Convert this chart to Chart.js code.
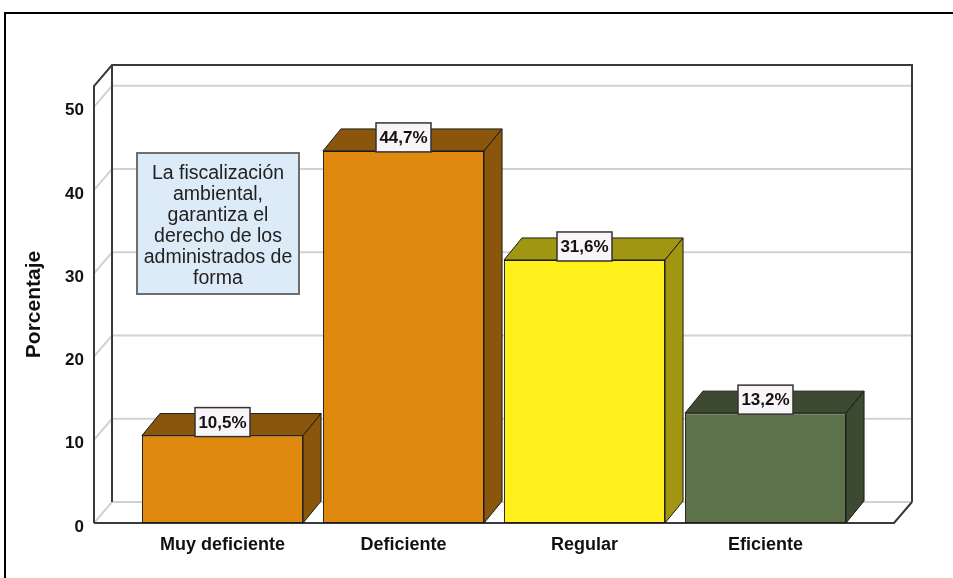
<!DOCTYPE html>
<html>
<head>
<meta charset="utf-8">
<script src="https://cdn.jsdelivr.net/npm/chart.js@4.4.1/dist/chart.umd.min.js"></script>
<style>
  html, body { margin: 0; padding: 0; background: #fff; }
  canvas { display: block; }
</style>
</head>
<body>
<canvas id="chart" width="953" height="578"></canvas>
<script>
const categories = ['Muy deficiente', 'Deficiente', 'Regular', 'Eficiente'];
const percentages = [10.5, 44.7, 31.6, 13.2];
const yTicks = [0, 10, 20, 30, 40, 50];
const frontColors = ['#E0890F', '#E0890F', '#FFF01C', '#5D724A'];
const sideColors = ['#8A560C', '#8A560C', '#A09612', '#3B4A30'];
const noteLines = ['La fiscalización', 'ambiental,', 'garantiza el', 'derecho de los', 'administrados de', 'forma'];

const DX = 18, DY = 21, BAR_DY = 22;
const FONT = '"Liberation Sans", Arial, sans-serif';

function poly(ctx, pts, fill, stroke) {
  ctx.beginPath();
  ctx.moveTo(pts[0][0], pts[0][1]);
  for (let i = 1; i < pts.length; i++) ctx.lineTo(pts[i][0], pts[i][1]);
  ctx.closePath();
  ctx.fillStyle = fill;
  ctx.fill();
  ctx.lineWidth = 1;
  ctx.strokeStyle = stroke;
  ctx.stroke();
}

const frame3d = {
  id: 'frame3d',
  beforeDraw(chart) {
    const ctx = chart.ctx;
    ctx.save();
    ctx.strokeStyle = '#000';
    ctx.lineWidth = 2;
    ctx.beginPath();
    ctx.moveTo(5, 578);
    ctx.lineTo(5, 13);
    ctx.lineTo(953, 13);
    ctx.stroke();
    ctx.restore();
  },
  beforeDatasetsDraw(chart) {
    const ctx = chart.ctx;
    const { left: L, right: R, top: T, bottom: B } = chart.chartArea;
    const y = chart.scales.y;
    ctx.save();
    // gridlines on the left and back walls
    ctx.strokeStyle = '#D2D2D2';
    ctx.lineWidth = 2;
    yTicks.forEach(v => {
      const fy = y.getPixelForValue(v);
      ctx.beginPath();
      ctx.moveTo(L, fy);
      ctx.lineTo(L + DX, fy - DY);
      ctx.lineTo(R + DX, fy - DY);
      ctx.stroke();
    });
    // box outline
    ctx.strokeStyle = '#3A3A3A';
    ctx.lineWidth = 2;
    ctx.beginPath();
    ctx.moveTo(L, B);
    ctx.lineTo(L, T);
    ctx.lineTo(L + DX, T - DY);
    ctx.lineTo(R + DX, T - DY);
    ctx.lineTo(R + DX, B - DY);
    ctx.moveTo(L + DX, T - DY);
    ctx.lineTo(L + DX, B - DY);
    ctx.moveTo(L, B);
    ctx.lineTo(R, B);
    ctx.lineTo(R + DX, B - DY);
    ctx.stroke();
    ctx.restore();
  },
  afterDatasetsDraw(chart) {
    const ctx = chart.ctx;
    const meta = chart.getDatasetMeta(0);
    ctx.save();
    meta.data.forEach((bar, i) => {
      const { x, y, base, width } = bar.getProps(['x', 'y', 'base', 'width'], true);
      const l = x - width / 2, r = x + width / 2;
      poly(ctx, [[l, y], [l + DX, y - BAR_DY], [r + DX, y - BAR_DY], [r, y]], sideColors[i], '#1A1A1A');
      poly(ctx, [[r, y], [r + DX, y - BAR_DY], [r + DX, base - BAR_DY], [r, base]], sideColors[i], '#1A1A1A');
    });
    // value labels
    ctx.font = 'bold 17px ' + FONT;
    ctx.textAlign = 'center';
    ctx.textBaseline = 'middle';
    meta.data.forEach((bar, i) => {
      const txt = percentages[i].toFixed(1).replace('.', ',') + '%';
      const w = 55, h = 29;
      const bx = bar.x - w / 2, by = bar.y + 1 - h;
      ctx.fillStyle = '#F8F4F8';
      ctx.fillRect(bx, by, w, h);
      ctx.strokeStyle = '#333';
      ctx.lineWidth = 1.5;
      ctx.strokeRect(bx, by, w, h);
      ctx.fillStyle = '#111';
      ctx.fillText(txt, bar.x, by + h / 2 + 1);
    });
    // note box
    ctx.fillStyle = '#DDEAF8';
    ctx.fillRect(137, 153, 162, 141);
    ctx.strokeStyle = '#6E6E6E';
    ctx.lineWidth = 2;
    ctx.strokeRect(137, 153, 162, 141);
    ctx.fillStyle = '#222';
    ctx.font = '19.5px ' + FONT;
    noteLines.forEach((t, i) => ctx.fillText(t, 218, 174 + i * 21));
    ctx.restore();
  }
};

new Chart(document.getElementById('chart'), {
  type: 'bar',
  data: {
    datasets: [{
      data: percentages.map((v, i) => ({ x: i, y: v })),
      backgroundColor: frontColors,
      borderColor: '#1A1A1A',
      borderWidth: 1,
      borderSkipped: false,
      categoryPercentage: 1,
      barPercentage: 0.89
    }]
  },
  options: {
    responsive: false,
    animation: false,
    layout: { padding: { left: 0, top: 86, right: 59, bottom: 0 } },
    plugins: { legend: { display: false }, tooltip: { enabled: false } },
    scales: {
      x: {
        type: 'linear',
        offset: false,
        bounds: 'data',
        min: -0.71,
        max: 3.71,
        afterBuildTicks: s => { s.ticks = categories.map((c, i) => ({ value: i })); },
        afterFit: s => { s.height = 55; },
        grid: { display: false, drawTicks: false },
        border: { display: false },
        ticks: {
          autoSkip: false,
          maxRotation: 0,
          padding: 11,
          color: '#111',
          font: { family: FONT, size: 18, weight: 'bold' },
          callback: v => categories[v]
        }
      },
      y: {
        min: 0,
        max: 52.5,
        afterBuildTicks: s => { s.ticks = yTicks.map(v => ({ value: v })); },
        afterFit: s => { s.width = 94; },
        grid: { display: false, drawTicks: false },
        border: { display: false },
        ticks: {
          padding: 10,
          labelOffset: 4,
          color: '#111',
          font: { family: FONT, size: 17, weight: 'bold' }
        },
        title: {
          display: true,
          text: 'Porcentaje',
          color: '#111',
          padding: { top: 22, bottom: 0 },
          font: { family: FONT, size: 21, weight: 'bold' }
        }
      }
    }
  },
  plugins: [frame3d]
});
</script>
</body>
</html>
